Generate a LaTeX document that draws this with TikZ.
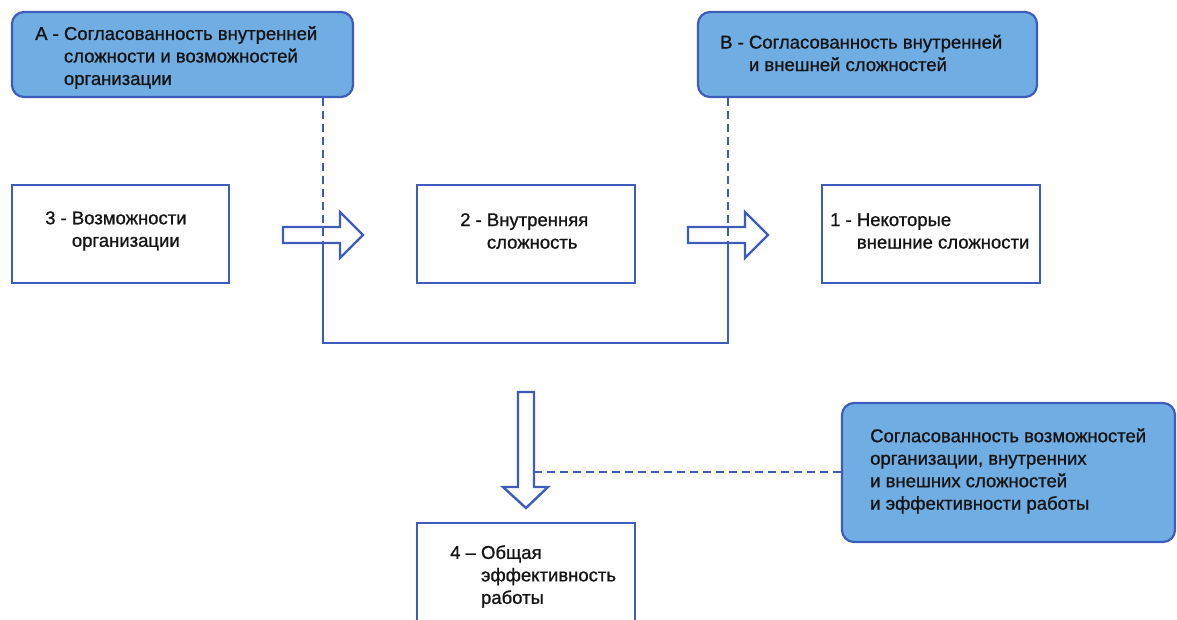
\documentclass[tikz,border=0pt]{standalone}
\usepackage{fontspec}
\setmainfont{Liberation Sans}[FakeBold=1]
\newfontfamily\heavyfont{Liberation Sans}[FakeBold=0.9]
\definecolor{boxblue}{RGB}{62,92,188}
\definecolor{fillblue}{RGB}{112,173,227}
\definecolor{txt}{RGB}{20,20,20}
\begin{document}
\begin{tikzpicture}[x=1pt,y=-1pt,
  box/.style={draw=boxblue,line width=2.6pt,fill=white,inner sep=0pt},
  callout/.style={draw=boxblue,line width=2.2pt,fill=fillblue,rounded corners=12pt,inner sep=0pt},
  lbl/.style={anchor=west,align=left,inner sep=0pt,text=txt,font=\heavyfont\fontsize{18.5}{22.5}\selectfont},
  blockarrow/.style={draw=boxblue,line width=2.4pt,fill=white,line join=miter},
  dashline/.style={draw=boxblue,line width=2.2pt,dash pattern=on 8pt off 5pt},
  solidline/.style={draw=boxblue,line width=2.4pt}]
\useasboundingbox (0,0) rectangle (1177,619);
% callout boxes
\node[callout,minimum width=341pt,minimum height=85pt] (A) at (182.5,54.5) {};
\node[callout,minimum width=339pt,minimum height=85pt] (B) at (867.5,54.5) {};
\node[callout,minimum width=333pt,minimum height=139pt] (C) at (1008.5,472.5) {};
% main boxes
\node[box,minimum width=217pt,minimum height=98pt] (b3) at (120.5,234) {};
\node[box,minimum width=218pt,minimum height=98pt] (b2) at (526,234) {};
\node[box,minimum width=218pt,minimum height=98pt] (b1) at (931,234) {};
\node[box,minimum width=218pt,minimum height=130pt] (b4) at (526,588) {};
% labels
\node[lbl] (tA) at (35,57.5) {А - Согласованность внутренней\\\hphantom{А - }сложности и возможностей\\\hphantom{А - }организации};
\node[lbl] (tB) at (720,53) {В - Согласованность внутренней\\\hphantom{В - }и внешней сложностей};
\node[lbl] (tC) at (870,471) {Согласованность возможностей\\организации, внутренних\\и внешних сложностей\\и эффективности работы};
\node[lbl] (t3) at (45,231) {3 - Возможности\\\hphantom{3 - }организации};
\node[lbl] (t2) at (460,231) {2 - Внутренняя\\\hphantom{2 - }сложность};
\node[lbl] (t1) at (830,231) {1 - Некоторые\\\hphantom{1 - }внешние сложности};
\node[lbl] (t4) at (450,576.5) {4 – Общая\\\hphantom{4 – }эффективность\\\hphantom{4 – }работы};
% block arrows
\draw[blockarrow] (283,227) -- (340,227) -- (340,212) -- (363,235) -- (340,258) -- (340,243) -- (283,243) -- cycle;
\draw[blockarrow] (688,227) -- (745,227) -- (745,212) -- (768,235) -- (745,258) -- (745,243) -- (688,243) -- cycle;
\draw[blockarrow] (518,392) -- (534,392) -- (534,487) -- (548,487) -- (526,508) -- (503,487) -- (518,487) -- cycle;
% connector lines
\coordinate (la) at (323,243);
\coordinate (ra) at (728,243);
\coordinate (da) at (534,472);
\draw[dashline] (la |- A.south) -- (la);
\draw[dashline] (ra |- B.south) -- (ra);
\draw[solidline,line join=miter] (la) -- (323,343) -- (728,343) -- (ra);
\draw[dashline] (da) -- (C.west |- da);
\end{tikzpicture}
\end{document}
